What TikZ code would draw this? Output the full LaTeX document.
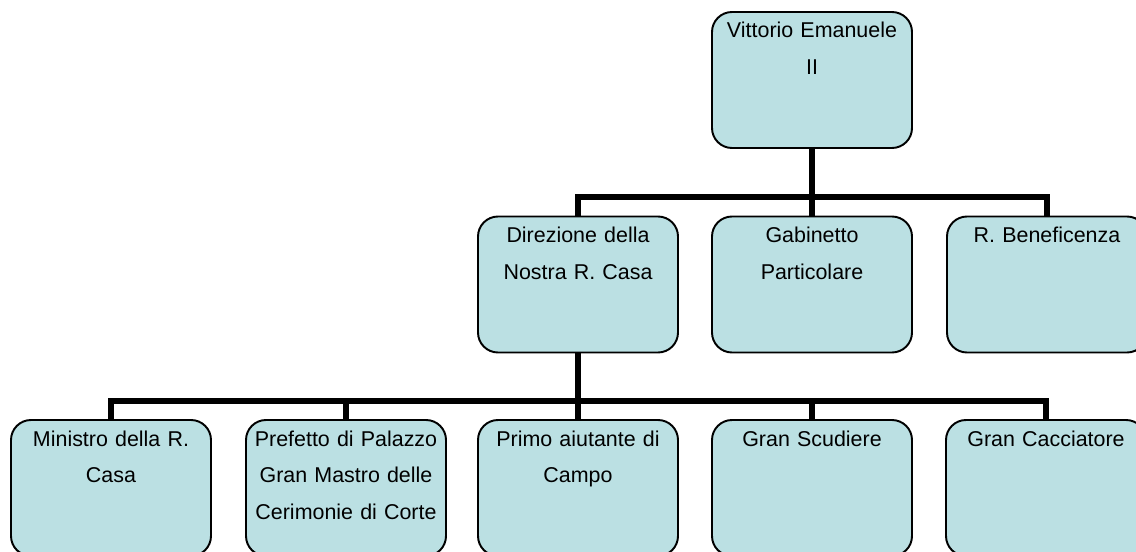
\documentclass[tikz,border=0pt]{standalone}
\usepackage{fontspec}
\setmainfont{Liberation Sans}
\definecolor{boxfill}{RGB}{187,224,227}

\begin{document}
\begin{tikzpicture}[
  orgbox/.style={rectangle, draw, line width=1.1pt, fill=boxfill, rounded corners=0.4cm,
    text width=3.8cm, align=center, inner sep=0.1cm, text height=0.42cm, text depth=2.10cm,
    font=\fontsize{12.2}{21}\selectfont},
  link/.style={line width=3.1pt}
]
\useasboundingbox (0,0) rectangle (22.72,11.02);

% Top
\node[orgbox] (vittorio) at (16.24, 9.42) {Vittorio Emanuele\\ II};

% Second level
\node[orgbox] (direzione) at (11.56, 5.33) {Direzione della\\ Nostra R. Casa};
\node[orgbox] (gabinetto) at (16.24, 5.33) {Gabinetto\\ Particolare};
\node[orgbox] (beneficenza) at (20.94, 5.33) {R. Beneficenza};

% Third level
\node[orgbox] (ministro) at (2.22, 1.26) {Ministro della R.\\ Casa};
\node[orgbox] (prefetto) at (6.92, 1.26) {Prefetto di Palazzo\\ Gran Mastro delle\\ Cerimonie di Corte};
\node[orgbox] (primo) at (11.56, 1.26) {Primo aiutante di\\ Campo};
\node[orgbox] (scudiere) at (16.24, 1.26) {Gran Scudiere};
\node[orgbox] (cacciatore) at (20.92, 1.26) {Gran Cacciatore};

% Bus lines
\coordinate (bus1) at (16.24, 7.08);
\coordinate (bus2) at (11.56, 3.0);

\draw[link] (vittorio.south) -- (gabinetto.north);
\draw[link] (direzione.north) |- (bus1) -| (beneficenza.north);

\draw[link] (direzione.south) -- (primo.north);
\draw[link] (ministro.north) |- (bus2) -| (cacciatore.north);
\draw[link] (prefetto.north) -- (prefetto.north |- bus2);
\draw[link] (scudiere.north) -- (scudiere.north |- bus2);

\end{tikzpicture}
\end{document}
